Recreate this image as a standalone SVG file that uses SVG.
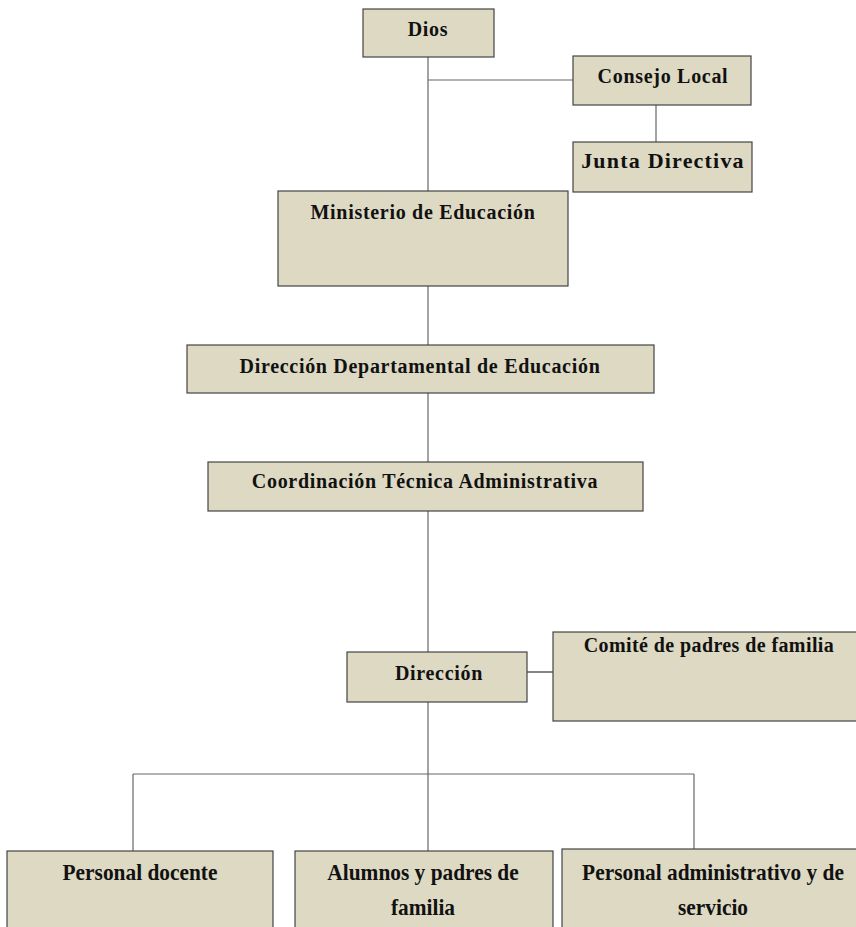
<svg xmlns="http://www.w3.org/2000/svg" width="856" height="927" viewBox="0 0 856 927">
<style>
.box{fill:#DDD9C3;stroke:#444;stroke-width:1.2}
.t{font-family:"Liberation Serif","Times New Roman",serif;font-weight:bold;fill:#111;text-anchor:middle;font-size:20px;letter-spacing:0.7px}
.b{font-size:23px;letter-spacing:0}
.ln{stroke:#666;stroke-width:1.2;fill:none}
</style>
<rect width="856" height="927" fill="#fff"/>
<g id="connectors">
<line class="ln" x1="428" y1="57" x2="428" y2="191"/>
<line class="ln" x1="428" y1="80" x2="573" y2="80"/>
<line class="ln" x1="656" y1="105" x2="656" y2="142"/>
<line class="ln" x1="428" y1="286" x2="428" y2="345"/>
<line class="ln" x1="428" y1="393" x2="428" y2="462"/>
<line class="ln" x1="428" y1="511" x2="428" y2="652"/>
<line class="ln" x1="527" y1="672" x2="553" y2="672" style="stroke:#333"/>
<line class="ln" x1="428" y1="702" x2="428" y2="851"/>
<line class="ln" x1="133" y1="774" x2="694" y2="774"/>
<line class="ln" x1="133" y1="774" x2="133" y2="851"/>
<line class="ln" x1="694" y1="774" x2="694" y2="849"/>
</g>
<g id="dios"><rect class="box" x="363" y="9" width="131" height="48"/><text class="t" x="428" y="36">Dios</text></g>
<g id="consejo-local"><rect class="box" x="573" y="56" width="178" height="49"/><text class="t" x="663" y="83">Consejo Local</text></g>
<g id="junta-directiva"><rect class="box" x="573" y="142" width="179" height="50"/><text class="t" x="663" y="168" style="font-size:22px;letter-spacing:1.2px">Junta Directiva</text></g>
<g id="ministerio"><rect class="box" x="278" y="191" width="290" height="95"/><text class="t" x="423" y="219">Ministerio de Educación</text></g>
<g id="direccion-departamental"><rect class="box" x="187" y="345" width="467" height="48"/><text class="t" x="420" y="373">Dirección Departamental de Educación</text></g>
<g id="coordinacion"><rect class="box" x="208" y="462" width="435" height="49"/><text class="t" x="425" y="488">Coordinación Técnica Administrativa</text></g>
<g id="direccion"><rect class="box" x="347" y="652" width="180" height="50"/><text class="t" x="439" y="680">Dirección</text></g>
<g id="comite"><rect class="box" x="553" y="632" width="314" height="89"/><text class="t" x="709" y="652" style="letter-spacing:0.4px">Comité de padres de familia</text></g>
<g id="personal-docente"><rect class="box" x="7" y="851" width="266" height="90"/><text class="t b" transform="translate(140 880) scale(0.93 1)">Personal docente</text></g>
<g id="alumnos"><rect class="box" x="295" y="851" width="258" height="90"/><text class="t b" transform="translate(423 880) scale(0.93 1)">Alumnos y padres de</text><text class="t b" transform="translate(423 915) scale(0.93 1)">familia</text></g>
<g id="personal-administrativo"><rect class="box" x="562" y="849" width="304" height="92"/><text class="t b" transform="translate(713 880) scale(0.93 1)">Personal administrativo y de</text><text class="t b" transform="translate(713 915) scale(0.93 1)">servicio</text></g>
</svg>
